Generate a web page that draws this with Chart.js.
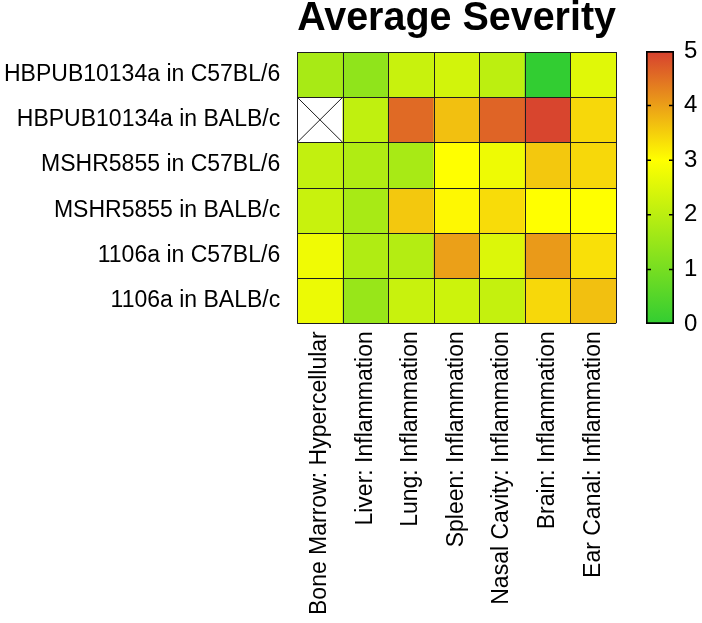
<!DOCTYPE html>
<html><head><meta charset="utf-8">
<script src="https://cdn.jsdelivr.net/npm/chart.js@4/dist/chart.umd.min.js"></script>
<style>
html,body{margin:0;padding:0;background:#fff;}
#wrap{position:relative;width:702px;height:623px;overflow:hidden;}
#main{position:absolute;left:0;top:0;}
#cbar{position:absolute;left:630px;top:0;}
</style></head><body>
<div id="wrap"><canvas id="main" width="702" height="623"></canvas><canvas id="cbar" width="72" height="623"></canvas></div>
<script>
const chartTitle = 'Average Severity';
const rowLabels = ['HBPUB10134a in C57BL/6','HBPUB10134a in BALB/c','MSHR5855 in C57BL/6','MSHR5855 in BALB/c','1106a in C57BL/6','1106a in BALB/c'];
const colLabels = ['Bone Marrow: Hypercellular','Liver: Inflammation','Lung: Inflammation','Spleen: Inflammation','Nasal Cavity: Inflammation','Brain: Inflammation','Ear Canal: Inflammation'];
const hbpubC57 = [1.73, 1.38, 2.20, 2.34, 2.02, 0.00, 2.55];
const hbpubBALB = [null, 2.08, 4.56, 3.66, 4.62, 4.95, 3.41];
const mshrC57 = [2.10, 1.84, 1.73, 3.00, 2.75, 3.58, 3.41];
const mshrBALB = [2.20, 1.73, 3.58, 3.07, 3.37, 3.00, 3.00];
const s1106C57 = [2.78, 1.84, 1.90, 4.00, 2.49, 4.06, 3.32];
const s1106BALB = [2.72, 1.49, 2.20, 2.26, 2.14, 3.41, 3.66];
const severity = [hbpubC57, hbpubBALB, mshrC57, mshrBALB, s1106C57, s1106BALB];
const scaleTicks = [0, 1, 2, 3, 4, 5];
const scaleMin = 0, scaleMax = 5;

const FONT = "'Liberation Sans', Arial, sans-serif";
const cmapStops = [[0, [50, 205, 50]], [3, [255, 255, 0]], [5, [215, 64, 47]]];
function colormap(v) {
  for (let k = 0; k < cmapStops.length - 1; k++) {
    const [a, ca] = cmapStops[k], [b, cb] = cmapStops[k + 1];
    if (v <= b || k === cmapStops.length - 2) {
      const t = Math.max(0, Math.min(1, (v - a) / (b - a)));
      const c = ca.map((x, i) => Math.round(x + (cb[i] - x) * t));
      return `rgb(${c[0]},${c[1]},${c[2]})`;
    }
  }
}
const cellColor = v => v == null ? '#ffffff' : colormap(v);

const gridPlugin = {
  id: 'gridLines',
  afterDatasetsDraw(chart) {
    const {ctx, scales: {x, y}} = chart;
    const nC = colLabels.length, nR = rowLabels.length;
    const L = x.getPixelForValue(-0.5), R = x.getPixelForValue(nC - 0.5);
    const T = y.getPixelForValue(0), B = y.getPixelForValue(nR);
    ctx.save();
    ctx.strokeStyle = '#1e1e1e';
    ctx.lineWidth = 1;
    ctx.beginPath();
    for (let j = 0; j <= nC; j++) {
      const px = Math.round(x.getPixelForValue(j - 0.5)) + 0.5;
      ctx.moveTo(px, T); ctx.lineTo(px, B);
    }
    for (let i = 0; i <= nR; i++) {
      const py = Math.round(y.getPixelForValue(i)) + 0.5;
      ctx.moveTo(L, py); ctx.lineTo(R, py);
    }
    severity.forEach((row, i) => row.forEach((v, j) => {
      if (v == null) {
        const x0 = x.getPixelForValue(j - 0.5), x1 = x.getPixelForValue(j + 0.5);
        const y0 = y.getPixelForValue(i), y1 = y.getPixelForValue(i + 1);
        ctx.moveTo(x0, y0); ctx.lineTo(x1, y1);
        ctx.moveTo(x1, y0); ctx.lineTo(x0, y1);
      }
    }));
    ctx.stroke();
    ctx.restore();
  }
};

const datasets = rowLabels.map((name, i) => ({
  label: name,
  data: colLabels.map(() => 1),
  backgroundColor: severity[i].map(cellColor),
  borderWidth: 0,
  barPercentage: 1,
  categoryPercentage: 1,
  stack: 'grid'
}));

new Chart(document.getElementById('main'), {
  type: 'bar',
  data: {labels: colLabels, datasets},
  options: {
    responsive: false,
    animation: false,
    layout: {padding: {left: -13, right: 86, top: 0, bottom: 0}},
    plugins: {
      legend: {display: false},
      tooltip: {enabled: false},
      title: {
        display: true, text: chartTitle, fullSize: false, color: '#000',
        font: {family: FONT, size: 40, weight: 'bold'},
        padding: {top: -5, bottom: 9}
      }
    },
    scales: {
      x: {
        stacked: true,
        grid: {display: false, drawTicks: false},
        border: {display: false},
        ticks: {minRotation: 90, maxRotation: 90, autoSkip: false, color: '#000',
          font: {family: FONT, size: 23}, padding: 8}
      },
      y: {
        type: 'linear', stacked: true, min: 0, max: rowLabels.length, reverse: true,
        grid: {display: false, drawTicks: false},
        border: {display: false},
        afterBuildTicks: ax => { ax.ticks = rowLabels.map((_, i) => ({value: i + 0.5})); },
        ticks: {color: '#000', font: {family: FONT, size: 23}, padding: 17,
          callback: v => rowLabels[Math.floor(v)]}
      }
    }
  },
  plugins: [gridPlugin]
});

const cbarTicks = {
  id: 'cbarTicks',
  afterDatasetsDraw(chart) {
    const {ctx} = chart;
    const bar = chart.getDatasetMeta(0).data[0];
    const half = bar.width / 2;
    const l = bar.x - half, r = bar.x + half;
    const y = chart.scales.y;
    ctx.save();
    ctx.strokeStyle = '#000';
    ctx.lineWidth = 1.5;
    ctx.beginPath();
    scaleTicks.slice(1, -1).forEach(v => {
      const py = y.getPixelForValue(v);
      ctx.moveTo(l, py); ctx.lineTo(l + 5, py);
      ctx.moveTo(r - 5, py); ctx.lineTo(r, py);
    });
    ctx.stroke();
    ctx.restore();
  }
};

new Chart(document.getElementById('cbar'), {
  type: 'bar',
  data: {labels: [''], datasets: [{
    data: [[scaleMin, scaleMax]],
    backgroundColor: ctx => {
      const chart = ctx.chart;
      if (!chart.chartArea) return '#ccc';
      const y = chart.scales.y;
      const g = chart.ctx.createLinearGradient(0, y.getPixelForValue(scaleMin), 0, y.getPixelForValue(scaleMax));
      cmapStops.forEach(([v]) => g.addColorStop((v - scaleMin) / (scaleMax - scaleMin), colormap(v)));
      return g;
    },
    borderColor: '#000', borderWidth: 2, borderSkipped: false,
    barPercentage: 1, categoryPercentage: 1
  }]},
  options: {
    responsive: false,
    animation: false,
    layout: {padding: {left: 16, right: 0, top: 51, bottom: 299}},
    plugins: {legend: {display: false}, tooltip: {enabled: false}},
    scales: {
      x: {display: false},
      y: {
        position: 'right', min: scaleMin, max: scaleMax,
        grid: {display: false, drawTicks: false},
        border: {display: false},
        afterBuildTicks: ax => { ax.ticks = scaleTicks.map(v => ({value: v})); },
        ticks: {color: '#000', font: {family: FONT, size: 24}, padding: 10}
      }
    }
  },
  plugins: [cbarTicks]
});
</script>
</body></html>
